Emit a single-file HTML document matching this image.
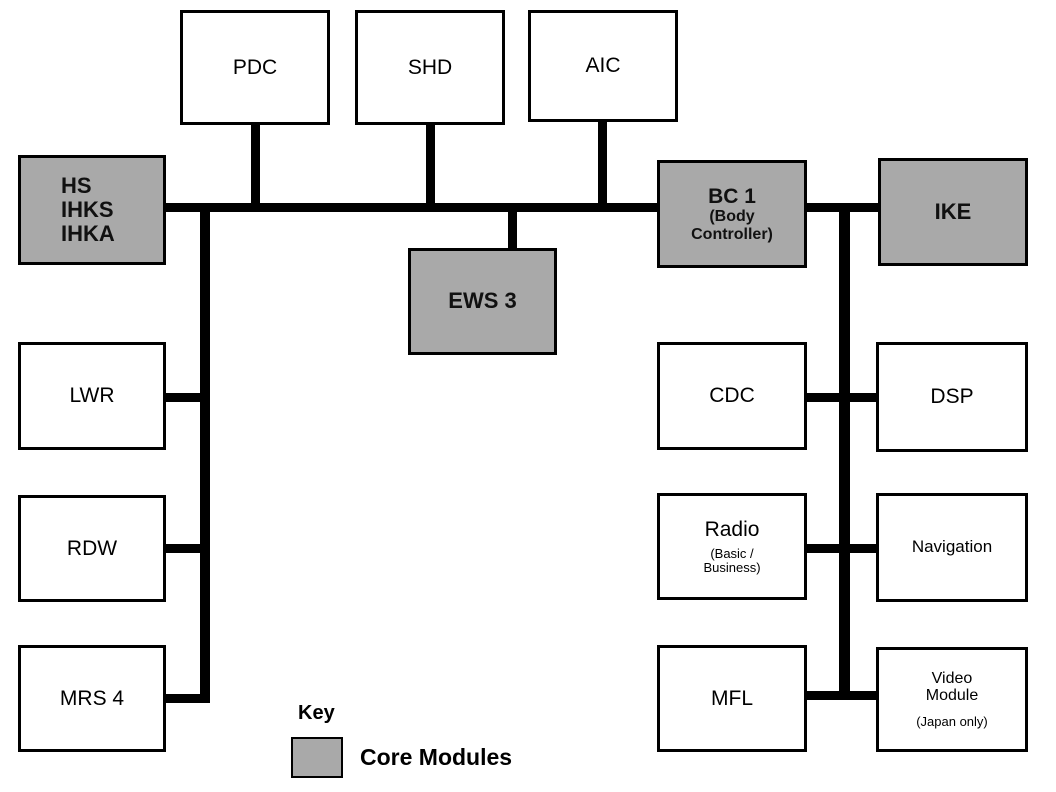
<!DOCTYPE html>
<html><head><style>
body{margin:0;width:1056px;height:792px;background:#fff;position:relative;overflow:hidden;font-family:"Liberation Sans",Arial,sans-serif;}
.b{position:absolute;box-sizing:border-box;border:3px solid #000;background:#fff;display:flex;flex-direction:column;align-items:center;justify-content:center;text-align:center;font-size:21px;color:#000;line-height:1.1}
.g{background:#a9a9a9;font-weight:bold;color:#111}
.l{position:absolute;background:#000}
small{font-size:13px;display:block;margin-top:6px}
</style></head><body>
<div class="l" style="left:166px;top:203px;width:491px;height:9px"></div>
<div class="l" style="left:807px;top:203px;width:71px;height:9px"></div>
<div class="l" style="left:251px;top:125px;width:9px;height:82px"></div>
<div class="l" style="left:426px;top:125px;width:9px;height:82px"></div>
<div class="l" style="left:598px;top:122px;width:9px;height:85px"></div>
<div class="l" style="left:508px;top:207px;width:9px;height:41px"></div>
<div class="l" style="left:200px;top:207px;width:10px;height:496px"></div>
<div class="l" style="left:166px;top:393px;width:40px;height:9px"></div>
<div class="l" style="left:166px;top:544px;width:40px;height:9px"></div>
<div class="l" style="left:166px;top:694px;width:40px;height:9px"></div>
<div class="l" style="left:839px;top:207px;width:11px;height:492px"></div>
<div class="l" style="left:807px;top:393px;width:71px;height:9px"></div>
<div class="l" style="left:807px;top:544px;width:71px;height:9px"></div>
<div class="l" style="left:807px;top:691px;width:71px;height:9px"></div>
<div class="b" style="left:180px;top:10px;width:150px;height:115px">PDC</div>
<div class="b" style="left:355px;top:10px;width:150px;height:115px">SHD</div>
<div class="b" style="left:528px;top:10px;width:150px;height:112px">AIC</div>
<div class="b g" style="left:18px;top:155px;width:148px;height:110px;align-items:flex-start;padding-left:40px;text-align:left;font-size:22px">HS<br>IHKS<br>IHKA</div>
<div class="b g" style="left:657px;top:160px;width:150px;height:108px;font-size:21px">BC 1<span style="font-size:16px">(Body<br>Controller)</span></div>
<div class="b g" style="left:878px;top:158px;width:150px;height:108px;font-size:22px">IKE</div>
<div class="b g" style="left:408px;top:248px;width:149px;height:107px;font-size:22px">EWS 3</div>
<div class="b" style="left:18px;top:342px;width:148px;height:108px">LWR</div>
<div class="b" style="left:18px;top:495px;width:148px;height:107px">RDW</div>
<div class="b" style="left:18px;top:645px;width:148px;height:107px">MRS 4</div>
<div class="b" style="left:657px;top:342px;width:150px;height:108px">CDC</div>
<div class="b" style="left:876px;top:342px;width:152px;height:110px">DSP</div>
<div class="b" style="left:657px;top:493px;width:150px;height:107px">Radio<small>(Basic /<br>Business)</small></div>
<div class="b" style="left:876px;top:493px;width:152px;height:109px;font-size:17px">Navigation</div>
<div class="b" style="left:657px;top:645px;width:150px;height:107px">MFL</div>
<div class="b" style="left:876px;top:647px;width:152px;height:105px;font-size:16px">Video<br>Module<small style="margin-top:10px">(Japan only)</small></div>
<div style="position:absolute;left:298px;top:702px;font-weight:bold;font-size:20px">Key</div>
<div style="position:absolute;left:291px;top:737px;width:52px;height:41px;box-sizing:border-box;border:2px solid #000;background:#a9a9a9"></div>
<div style="position:absolute;left:360px;top:744px;font-weight:bold;font-size:23px">Core Modules</div>
</body></html>
